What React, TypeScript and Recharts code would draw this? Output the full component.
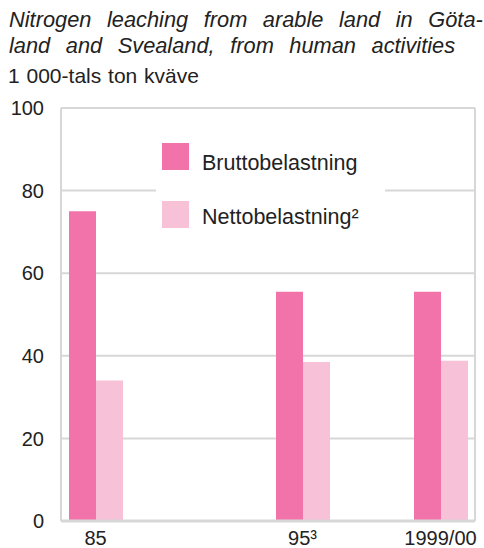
import { BarChart, Bar, XAxis, YAxis, CartesianGrid, Legend } from "recharts";

// year slots along the axis; empty slots are years without a survey
const years = ["85", "", "", "95³", "", "1999/00"];
const brutto = [75, null, null, 55.5, null, 55.5];
const netto = [34, null, null, 38.5, null, 38.8];
const seriesNames = ["Bruttobelastning", "Nettobelastning²"];
const yTicks = [0, 20, 40, 60, 80, 100];

const titleLines = [
  "Nitrogen leaching from arable land in Göta-",
  "land and Svealand, from human activities",
];
const unitLabel = "1 000-tals ton kväve";

const colors = { brutto: "#f173aa", netto: "#f7c1d7", grid: "#d7d7d7", text: "#222" };
const font = "'Liberation Sans', Arial, sans-serif";

const data = years.map((year, i) => ({ year, brutto: brutto[i], netto: netto[i] }));

function LegendBox({ payload }: any) {
  const items = payload || [];
  return (
    <svg width={229} height={112}>
      {items.map((item: any, i: number) => (
        <g key={item.value}>
          <rect x={6} y={15 + i * 58} width={27} height={27} fill={item.color} />
          <text
            x={46}
            y={42 + i * 54}
            fontSize={21.5}
            fill={colors.text}
            fontFamily={font}
          >
            {item.value}
          </text>
        </g>
      ))}
    </svg>
  );
}

const titleStyle = {
  position: "absolute" as const,
  left: 9,
  fontSize: 21.8,
  lineHeight: "21.8px",
  fontStyle: "italic",
  wordSpacing: "9.5px",
  whiteSpace: "nowrap" as const,
};

export default function App() {
  return (
    <div style={{ position: "absolute", left: 0, top: 0, width: 484, height: 548, background: "#fff", fontFamily: font, color: colors.text }}>
      <div style={{ ...titleStyle, top: 9.3 }}>{titleLines[0]}</div>
      <div style={{ ...titleStyle, top: 34.9 }}>{titleLines[1]}</div>
      <div style={{ position: "absolute", left: 8, top: 65.3, fontSize: 21, lineHeight: "21px", wordSpacing: "1px", whiteSpace: "nowrap" }}>
        {unitLabel}
      </div>
      <div style={{ position: "absolute", left: 0, top: 0 }}>
        <BarChart
          width={484}
          height={548}
          data={data}
          margin={{ top: 108, right: 9, bottom: 0, left: 0 }}
          barSize={27}
          barGap={0}
        >
          <CartesianGrid
            stroke={colors.grid}
            strokeWidth={2}
            verticalCoordinatesGenerator={({ offset }: any) => [offset.left, offset.left + offset.width]}
          />
          <XAxis
            dataKey="year"
            interval={0}
            height={27}
            tickLine={false}
            tickSize={6}
            tickMargin={4}
            axisLine={{ stroke: colors.grid, strokeWidth: 3 }}
            tick={{ fontSize: 20, fill: colors.text, fontFamily: font }}
          />
          <YAxis
            domain={[0, 100]}
            ticks={yTicks}
            width={61}
            tickLine={false}
            tickSize={6}
            tickMargin={11}
            axisLine={{ stroke: colors.grid, strokeWidth: 2 }}
            tick={{ fontSize: 20, fill: colors.text, fontFamily: font }}
          />
          <Legend
            layout="horizontal"
            verticalAlign="middle"
            align="center"
            content={<LegendBox />}
            wrapperStyle={{ position: "absolute", left: 156, top: 128, width: 229, height: 112, background: "#fff" }}
          />
          <Bar dataKey="brutto" name={seriesNames[0]} fill={colors.brutto} isAnimationActive={false} />
          <Bar dataKey="netto" name={seriesNames[1]} fill={colors.netto} isAnimationActive={false} />
        </BarChart>
      </div>
    </div>
  );
}
